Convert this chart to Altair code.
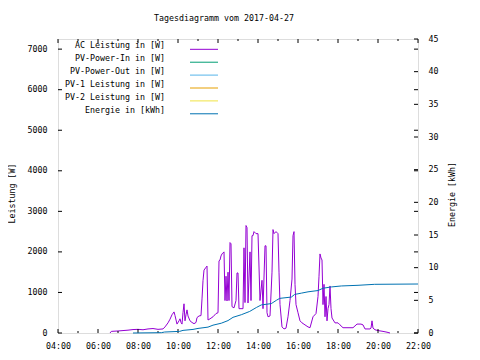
import altair as alt
import pandas as pd

# ---- data ----
ac_time = ["06:36", "06:40", "07:00", "07:15", "07:30", "07:45", "08:00", "08:15", "08:30", "08:45",
           "09:00", "09:15", "09:21", "09:30", "09:36", "09:42", "09:48", "09:51", "09:57", "10:03",
           "10:06", "10:09", "10:12", "10:15", "10:18", "10:21", "10:24", "10:27", "10:30", "10:36",
           "10:42", "10:48", "10:54", "10:57", "11:03", "11:09", "11:12", "11:15", "11:18", "11:24",
           "11:27", "11:30", "11:36", "11:45", "11:54", "12:00", "12:03", "12:06", "12:09", "12:12",
           "12:18", "12:21", "12:24", "12:27", "12:30", "12:33", "12:36", "12:39", "12:42", "12:48",
           "12:54", "12:57", "13:00", "13:03", "13:09", "13:15", "13:18", "13:21", "13:24", "13:27",
           "13:30", "13:36", "13:39", "13:42", "13:45", "13:48", "13:54", "13:57", "14:00", "14:06",
           "14:12", "14:15", "14:21", "14:24", "14:27", "14:30", "14:36", "14:42", "14:45", "14:48",
           "14:54", "15:00", "15:03", "15:06", "15:12", "15:18", "15:24", "15:30", "15:36", "15:42",
           "15:45", "15:48", "15:51", "15:54", "16:00", "16:06", "16:12", "16:21", "16:30", "16:36",
           "16:45", "16:54", "17:00", "17:03", "17:06", "17:09", "17:12", "17:15", "17:18", "17:21",
           "17:24", "17:27", "17:30", "17:33", "17:36", "17:39", "17:42", "17:51", "18:00", "18:06",
           "18:15", "18:27", "18:36", "18:45", "18:57", "19:09", "19:15", "19:21", "19:36", "19:39",
           "19:42", "19:45", "19:51", "20:00", "20:15", "20:27", "20:36"]
ac_watt = [0, 40, 50, 60, 70, 85, 90, 80, 100, 110,
           90, 100, 150, 250, 340, 450, 520, 430, 220, 300,
           350, 260, 220, 500, 720, 300, 450, 570, 420, 300,
           260, 230, 260, 380, 420, 430, 840, 1290, 1550, 1620,
           1650, 320, 350, 400, 480, 500, 1780, 1800, 1900, 1950,
           2000, 800, 1400, 790, 1500, 800, 2230, 2200, 650, 620,
           800, 1480, 1480, 600, 600, 600, 2100, 750, 2650, 2600,
           740, 2000, 800, 2400, 2400, 2500, 2450, 2450, 2450, 800,
           1300, 600, 2150, 2150, 500, 400, 420, 1500, 2550, 2450,
           2500, 2450, 1500, 700, 150, 100, 120, 400, 800, 1330,
           2400, 2500, 1200, 700, 500, 300, 250, 200, 150, 130,
           400, 480, 900, 1400, 1950, 1850, 1800, 700, 1200, 400,
           900, 300, 600, 700, 1160, 600, 370, 250, 250, 200,
           130, 130, 130, 130, 220, 220, 200, 100, 100, 120,
           300, 120, 80, 60, 40, 20, 0]

en_time = ["07:45", "09:10", "09:20", "10:05", "10:15", "10:45", "11:00", "11:30", "11:45", "12:10",
           "12:30", "12:45", "13:10", "13:35", "13:55", "14:10", "14:40", "14:55", "15:05", "15:40",
           "15:50", "16:10", "16:30", "17:00", "17:15", "17:40", "18:10", "19:00", "19:50", "22:00"]
en_kwh = [0.0, 0.05, 0.15, 0.25, 0.4, 0.55, 0.7, 0.9, 1.2, 1.5,
          1.9, 2.4, 2.8, 3.3, 3.9, 4.3, 4.5, 5.0, 5.3, 5.5,
          5.9, 6.1, 6.3, 6.5, 6.85, 7.05, 7.2, 7.3, 7.45, 7.5]

legend_labels = ["AC Leistung in [W]", "PV-Power-In in [W]", "PV-Power-Out in [W]",
                 "PV-1 Leistung in [W]", "PV-2 Leistung in [W]", "Energie in [kWh]"]
legend_colors = ["#9400d3", "#009e73", "#56b4e9", "#e69f00", "#f0e442", "#0072b2"]

x_major = [4, 6, 8, 10, 12, 14, 16, 18, 20, 22]
x_minor = [5, 7, 9, 11, 13, 15, 17, 19, 21]
y_ticks = [0, 1000, 2000, 3000, 4000, 5000, 6000, 7000]
y2_ticks = [0, 5, 10, 15, 20, 25, 30, 35, 40, 45]

FONT = "DejaVu Sans Mono"
FS = 8.3
W, H = 360, 294
XDOM = [4, 22]
YDOM = [0, 7250]
Y2DOM = [0, 45]


def to_h(s):
    h, m = s.split(":")
    return int(h) + int(m) / 60.0


ac_df = pd.DataFrame({"h": [to_h(t) for t in ac_time], "w": ac_watt})
en_df = pd.DataFrame({"h": [to_h(t) for t in en_time], "e": en_kwh})
leg_df = pd.DataFrame({"row": list(range(len(legend_labels))), "label": legend_labels, "col": legend_colors})
xmaj_df = pd.DataFrame({"h": x_major})
xmin_df = pd.DataFrame({"h": x_minor})
yt_df = pd.DataFrame({"w": y_ticks})
y2t_df = pd.DataFrame({"e": y2_ticks})

xscale = alt.Scale(domain=XDOM, nice=False, zero=False)
yscale = alt.Scale(domain=YDOM, nice=False)
y2scale = alt.Scale(domain=Y2DOM, nice=False)

x_axis = alt.Axis(values=x_major, title=None, ticks=False, domain=False, grid=False,
                  labelExpr="(datum.value < 10 ? '0' : '') + datum.value + ':00'",
                  labelFlush=False, labelOverlap=False,
                  labelPadding=8, labelFont=FONT, labelFontSize=FS, labelColor="black")
y_axis = alt.Axis(
    orient="left", values=y_ticks, format="d", title="Leistung [W]", ticks=False, domain=False, grid=False,
    labelFlush=False, labelOverlap=False,
    labelPadding=11, labelFont=FONT, labelFontSize=FS, labelColor="black",
    titleFont=FONT, titleFontSize=FS, titleFontWeight="normal", titleColor="black",
    titleAngle=270, titleX=-46, titleY=154, titleAlign="center", titleBaseline="middle")
y2_axis = alt.Axis(
    orient="right", values=y2_ticks, format="d", title="Energie [kWh]", ticks=False, domain=False, grid=False,
    labelFlush=False, labelOverlap=False,
    labelPadding=10, labelFont=FONT, labelFontSize=FS, labelColor="black",
    titleFont=FONT, titleFontSize=FS, titleFontWeight="normal", titleColor="black",
    titleAngle=270, titleX=34, titleY=155, titleAlign="center", titleBaseline="middle")

X = alt.X("h:Q", scale=xscale, axis=x_axis)
Y = alt.Y("w:Q", scale=yscale, axis=y_axis)
Y2 = alt.Y("e:Q", scale=y2scale, axis=y2_axis)

ac_line = alt.Chart(ac_df).mark_line(color="#9400d3", strokeWidth=1).encode(x=X, y=Y)

ytick_left = alt.Chart(yt_df).mark_rule(color="black", strokeWidth=1).encode(
    y=Y, x=alt.value(0), x2=alt.value(4))
ytick_right = alt.Chart(yt_df).mark_rule(color="black", strokeWidth=1).encode(
    y=Y, x=alt.value(W - 4), x2=alt.value(W))

xt_bot_maj = alt.Chart(xmaj_df).mark_rule(color="black", strokeWidth=1).encode(
    x=X, y=alt.value(H), y2=alt.value(H - 4))
xt_bot_min = alt.Chart(xmin_df).mark_rule(color="black", strokeWidth=1).encode(
    x=X, y=alt.value(H), y2=alt.value(H - 2))
xt_top_maj = alt.Chart(xmaj_df).mark_rule(color="black", strokeWidth=1).encode(
    x=X, y=alt.value(0), y2=alt.value(4))
xt_top_min = alt.Chart(xmin_df).mark_rule(color="black", strokeWidth=1).encode(
    x=X, y=alt.value(0), y2=alt.value(2))

left_group = alt.layer(ac_line, ytick_left, ytick_right, xt_bot_maj, xt_bot_min, xt_top_maj, xt_top_min)

en_line = alt.Chart(en_df).mark_line(color="#0072b2", strokeWidth=1).encode(x=X, y=Y2)
y2tick = alt.Chart(y2t_df).mark_rule(color="black", strokeWidth=1).encode(
    y=Y2, x=alt.value(W - 4), x2=alt.value(W))

right_group = alt.layer(en_line, y2tick)

legscale = alt.Scale(domain=[-0.8, 22.0], nice=False, zero=False, reverse=True)
leg_rule = alt.Chart(leg_df).mark_rule(strokeWidth=1).encode(
    y=alt.Y("row:Q", scale=legscale, axis=None),
    x=alt.value(132), x2=alt.value(160),
    color=alt.Color("col:N", scale=None, legend=None))
leg_text = alt.Chart(leg_df).mark_text(align="right", baseline="middle", dy=-3,
                                       font=FONT, fontSize=FS, color="black").encode(
    y=alt.Y("row:Q", scale=legscale, axis=None),
    x=alt.value(107),
    text="label:N")
leg_group = alt.layer(leg_rule, leg_text)

chart = alt.layer(left_group, right_group, leg_group).resolve_scale(y="independent").properties(
    width=W, height=H,
    autosize=alt.AutoSizeParams(type="none"),
    padding={"left": 50, "top": 31, "right": 54, "bottom": 19},
    title=alt.TitleParams("Tagesdiagramm vom 2017-04-27", font=FONT, fontSize=FS, fontWeight="normal",
                          color="black", anchor="middle", frame="group", dx=-14, offset=3,
                          baseline="bottom"),
).configure_view(stroke="black", strokeWidth=1).configure(background="white")

chart.save("out.html", embed_options={"renderer": "svg", "actions": False})
